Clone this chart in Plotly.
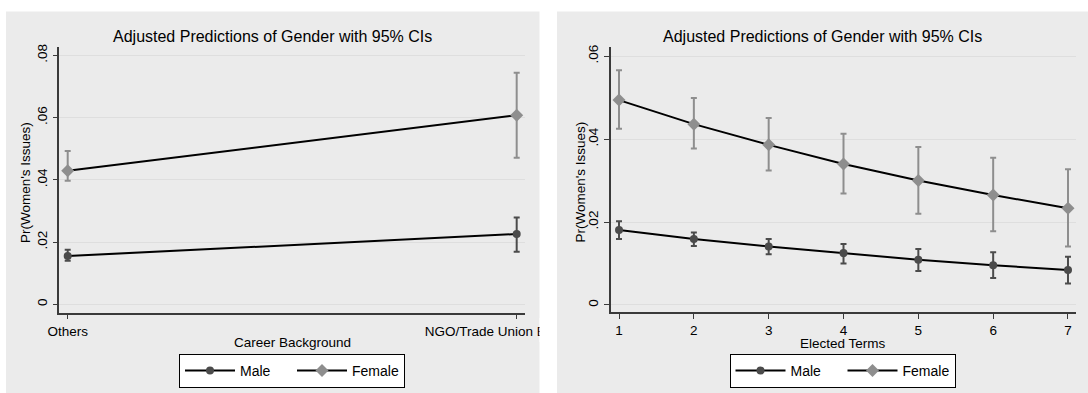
import plotly.graph_objects as go

# ---------------- data ----------------
career_cats = ["Others", "NGO/Trade Union Background"]
left_male = [0.0155, 0.0226]
left_male_lo = [0.0140, 0.0169]
left_male_hi = [0.0175, 0.0279]
left_female = [0.0429, 0.0608]
left_female_lo = [0.0397, 0.0471]
left_female_hi = [0.0493, 0.0744]

terms = [1, 2, 3, 4, 5, 6, 7]
right_male = [0.0181, 0.0159, 0.0141, 0.0125, 0.0109, 0.0096, 0.0084]
right_male_lo = [0.0159, 0.0142, 0.0122, 0.0100, 0.0082, 0.0065, 0.0052]
right_male_hi = [0.0202, 0.0175, 0.0159, 0.0147, 0.0135, 0.0127, 0.0116]
right_female = [0.0494, 0.0436, 0.0386, 0.0340, 0.0300, 0.0265, 0.0233]
right_female_lo = [0.0425, 0.0377, 0.0324, 0.0269, 0.0220, 0.0178, 0.0141]
right_female_hi = [0.0566, 0.0499, 0.0451, 0.0413, 0.0381, 0.0355, 0.0327]

left_yticks = [0, 0.02, 0.04, 0.06, 0.08]
left_yticktext = ["0", ".02", ".04", ".06", ".08"]
right_yticks = [0, 0.02, 0.04, 0.06]
right_yticktext = ["0", ".02", ".04", ".06"]

title_text = "Adjusted Predictions of Gender with 95% CIs"
ytitle_text = "Pr(Women's Issues)"

# ---------------- style ----------------
W, H = 1088, 393
FONT = "Liberation Sans, Arial, sans-serif"
PANEL = "#ebebeb"
MALE_C = "#4b4b4b"
FEMALE_C = "#8e8e8e"
GRID = "#dedede"
AXIS = "#3a3a3a"


def px(x):
    return x / W


def py(y):
    return 1 - y / H


def err(vals, lo, hi):
    return [h - v for v, h in zip(vals, hi)], [v - l for v, l in zip(vals, lo)]


fig = go.Figure()


def add_series(x, vals, lo, hi, name, color, symbol, size, xa, ya, legend):
    up, down = err(vals, lo, hi)
    fig.add_trace(go.Scatter(
        x=x, y=vals, name=name, mode="lines+markers",
        xaxis=xa, yaxis=ya, legend=legend,
        line=dict(color="black", width=2),
        marker=dict(color=color, symbol=symbol, size=size, line=dict(width=0)),
        error_y=dict(type="data", array=up, arrayminus=down, visible=True,
                     color=color, thickness=2, width=3),
    ))


add_series(career_cats, left_male, left_male_lo, left_male_hi, "Male", MALE_C,
           "circle", 8, "x", "y", "legend")
add_series(career_cats, left_female, left_female_lo, left_female_hi, "Female", FEMALE_C,
           "diamond", 10, "x", "y", "legend")
add_series(terms, right_male, right_male_lo, right_male_hi, "Male", MALE_C,
           "circle", 8, "x2", "y2", "legend2")
add_series(terms, right_female, right_female_lo, right_female_hi, "Female", FEMALE_C,
           "diamond", 10, "x2", "y2", "legend2")

axis_common = dict(showline=True, linecolor=AXIS, linewidth=1.5, ticks="outside",
                   ticklen=5, tickwidth=1.2, tickcolor=AXIS, zeroline=False,
                   automargin=False,
                   tickfont=dict(family=FONT, size=13.5, color="black"))

legend_common = dict(orientation="h", xanchor="center", y=py(354), yanchor="top",
                     bgcolor="white", bordercolor="black", borderwidth=1,
                     font=dict(family=FONT, size=14, color="black"),
                     itemwidth=50, entrywidth=47, entrywidthmode="pixels")

fig.update_layout(
    width=W, height=H,
    margin=dict(l=0, r=0, t=0, b=0, pad=0, autoexpand=False),
    paper_bgcolor="white", plot_bgcolor="white",
    font=dict(family=FONT, color="black"),
    xaxis=dict(domain=[px(59.3), px(525)], type="category", range=[-0.0187, 1.0185],
               showgrid=False, anchor="y", ticklabeloverflow="allow", **axis_common),
    yaxis=dict(domain=[py(312.7), py(47.3)], range=[-0.0027, 0.0826],
               tickvals=left_yticks, ticktext=left_yticktext, tickangle=-90,
               showgrid=True, gridcolor=GRID, gridwidth=1.3, anchor="x", **axis_common),
    xaxis2=dict(domain=[px(610.5), px(1076)], range=[0.886, 7.107],
                tickvals=terms, showgrid=False, anchor="y2", **axis_common),
    yaxis2=dict(domain=[py(312), py(47)], range=[-0.0017, 0.0622],
                tickvals=right_yticks, ticktext=right_yticktext, tickangle=-90,
                showgrid=True, gridcolor=GRID, gridwidth=1.3, anchor="x2", **axis_common),
    legend=dict(x=px(292), **legend_common),
    legend2=dict(x=px(842.5), **legend_common),
    showlegend=True,
)

# panel backgrounds
fig.add_shape(type="rect", xref="paper", yref="paper", layer="below",
              x0=px(6), x1=px(539.5), y0=0, y1=py(11.5), fillcolor=PANEL, line_width=0)
fig.add_shape(type="rect", xref="paper", yref="paper", layer="below",
              x0=px(557), x1=1, y0=0, y1=py(11.5), fillcolor=PANEL, line_width=0)
# clip the overflowing category label at the panel edge
fig.add_shape(type="rect", xref="paper", yref="paper", layer="above",
              x0=px(539.5), x1=px(557), y0=py(342), y1=py(318), fillcolor="white", line_width=0)
fig.add_shape(type="rect", xref="paper", yref="paper", layer="above",
              x0=px(557), x1=px(609), y0=py(342), y1=py(318), fillcolor=PANEL, line_width=0)

ann = dict(xref="paper", yref="paper", showarrow=False)
fig.add_annotation(text=title_text, x=px(272.5), y=py(36), xanchor="center", yanchor="middle",
                   font=dict(family=FONT, size=16, color="black"), **ann)
fig.add_annotation(text=title_text, x=px(822.5), y=py(36), xanchor="center", yanchor="middle",
                   font=dict(family=FONT, size=16, color="black"), **ann)
fig.add_annotation(text="Career Background", x=px(292), y=py(342), xanchor="center",
                   yanchor="middle", font=dict(family=FONT, size=13.5, color="black"), **ann)
fig.add_annotation(text="Elected Terms", x=px(843), y=py(343), xanchor="center",
                   yanchor="middle", font=dict(family=FONT, size=13.5, color="black"), **ann)
fig.add_annotation(text=ytitle_text, x=px(25.5), y=py(182.5), xanchor="center", yanchor="middle",
                   textangle=-90, font=dict(family=FONT, size=13.5, color="black"), **ann)
fig.add_annotation(text=ytitle_text, x=px(579.5), y=py(182), xanchor="center", yanchor="middle",
                   textangle=-90, font=dict(family=FONT, size=13.5, color="black"), **ann)

fig.write_html("out.html", config={"displayModeBar": False},
               post_script="document.body.style.margin='0';")
